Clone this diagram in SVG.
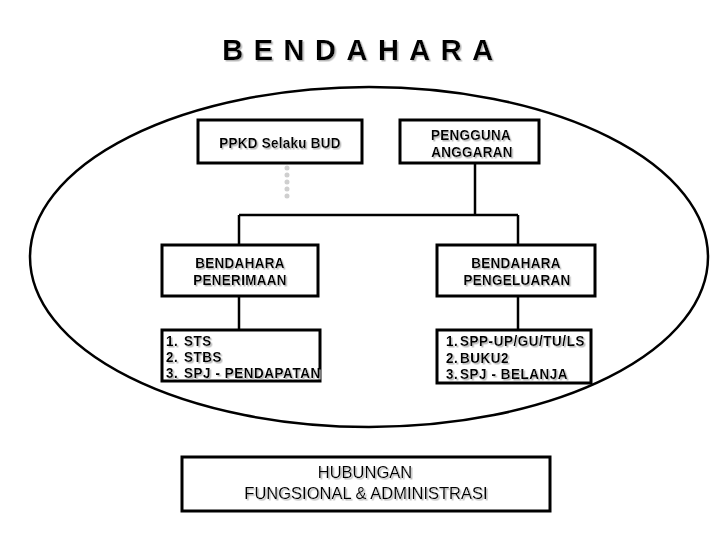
<svg xmlns="http://www.w3.org/2000/svg" width="720" height="540" viewBox="0 0 720 540">
<defs>
<filter id="sh" x="-10%" y="-30%" width="130%" height="170%">
<feDropShadow dx="1.5" dy="1.5" stdDeviation="0.4" flood-color="#b8b8b8" flood-opacity="1"/>
</filter>
<style>
.box{fill:#fff;stroke:#000;stroke-width:3}
.t{font-family:"Liberation Sans",Arial,sans-serif;font-weight:bold;font-size:15px;fill:#000;letter-spacing:0.3px}
.l{letter-spacing:0.6px}
.c{text-anchor:middle}
.n{font-family:"Liberation Sans",Arial,sans-serif;font-size:16.5px;fill:#000;text-anchor:middle}
.ln{stroke:#000;stroke-width:2.5;fill:none}
</style>
</defs>
<rect width="720" height="540" fill="#fff"/>
<text x="363" y="60" text-anchor="middle" font-family="'Liberation Sans',Arial,sans-serif" font-weight="bold" font-size="29" letter-spacing="10.5" filter="url(#sh)">BENDAHARA</text>
<ellipse cx="369" cy="257" rx="339" ry="170" fill="none" stroke="#000" stroke-width="2.5"/>
<g id="connectors">
<line class="ln" x1="475" y1="163" x2="475" y2="215"/>
<line class="ln" x1="239" y1="215" x2="518" y2="215"/>
<line class="ln" x1="239" y1="215" x2="239" y2="245"/>
<line class="ln" x1="518" y1="215" x2="518" y2="245"/>
<line class="ln" x1="239" y1="296" x2="239" y2="330"/>
<line class="ln" x1="518" y1="296" x2="518" y2="330"/>
<line x1="287" y1="168" x2="287" y2="203" stroke="#cfcfcf" stroke-width="5" stroke-linecap="round" stroke-dasharray="0 7"/>
</g>
<g id="ppkd">
<rect class="box" x="198" y="120" width="164" height="43"/>
<text class="t c" transform="translate(280 147.5) scale(0.9 1)" filter="url(#sh)">PPKD Selaku BUD</text>
</g>
<g id="pengguna">
<rect class="box" x="400" y="120" width="139" height="43"/>
<text class="t c" transform="translate(471 139.5) scale(0.9 1)" filter="url(#sh)">PENGGUNA</text>
<text class="t c" transform="translate(472 157) scale(0.9 1)" filter="url(#sh)">ANGGARAN</text>
</g>
<g id="penerimaan">
<rect class="box" x="162" y="245" width="156" height="51"/>
<text class="t c" transform="translate(240 267.5) scale(0.9 1)" filter="url(#sh)">BENDAHARA</text>
<text class="t c" transform="translate(240 285) scale(0.9 1)" filter="url(#sh)">PENERIMAAN</text>
</g>
<g id="pengeluaran">
<rect class="box" x="437" y="245" width="158" height="51"/>
<text class="t c" transform="translate(516 267.5) scale(0.9 1)" filter="url(#sh)">BENDAHARA</text>
<text class="t c" transform="translate(517 285) scale(0.9 1)" filter="url(#sh)">PENGELUARAN</text>
</g>
<g id="list-penerimaan">
<rect class="box" x="162" y="330" width="158" height="51"/>
<g filter="url(#sh)">
<text class="t l" transform="translate(166 346) scale(0.9 1)">1.</text><text class="t l" transform="translate(184 346) scale(0.9 1)">STS</text>
<text class="t l" transform="translate(166 362) scale(0.9 1)">2.</text><text class="t l" transform="translate(184 362) scale(0.9 1)">STBS</text>
<text class="t l" transform="translate(166 378) scale(0.9 1)">3.</text><text class="t l" transform="translate(184 378) scale(0.9 1)">SPJ - PENDAPATAN</text>
</g>
</g>
<g id="list-pengeluaran">
<rect class="box" x="437" y="330" width="154" height="53"/>
<g filter="url(#sh)">
<text class="t l" transform="translate(446 346) scale(0.9 1)">1.</text><text class="t l" transform="translate(460 346) scale(0.9 1)">SPP-UP/GU/TU/LS</text>
<text class="t l" transform="translate(446 362.5) scale(0.9 1)">2.</text><text class="t l" transform="translate(460 362.5) scale(0.9 1)">BUKU2</text>
<text class="t l" transform="translate(446 379) scale(0.9 1)">3.</text><text class="t l" transform="translate(460 379) scale(0.9 1)">SPJ - BELANJA</text>
</g>
</g>
<g id="hubungan">
<rect class="box" x="182" y="457" width="368" height="54"/>
<text class="n" x="365" y="478" filter="url(#sh)">HUBUNGAN</text>
<text class="n" x="366" y="499" filter="url(#sh)">FUNGSIONAL &amp; ADMINISTRASI</text>
</g>
</svg>
